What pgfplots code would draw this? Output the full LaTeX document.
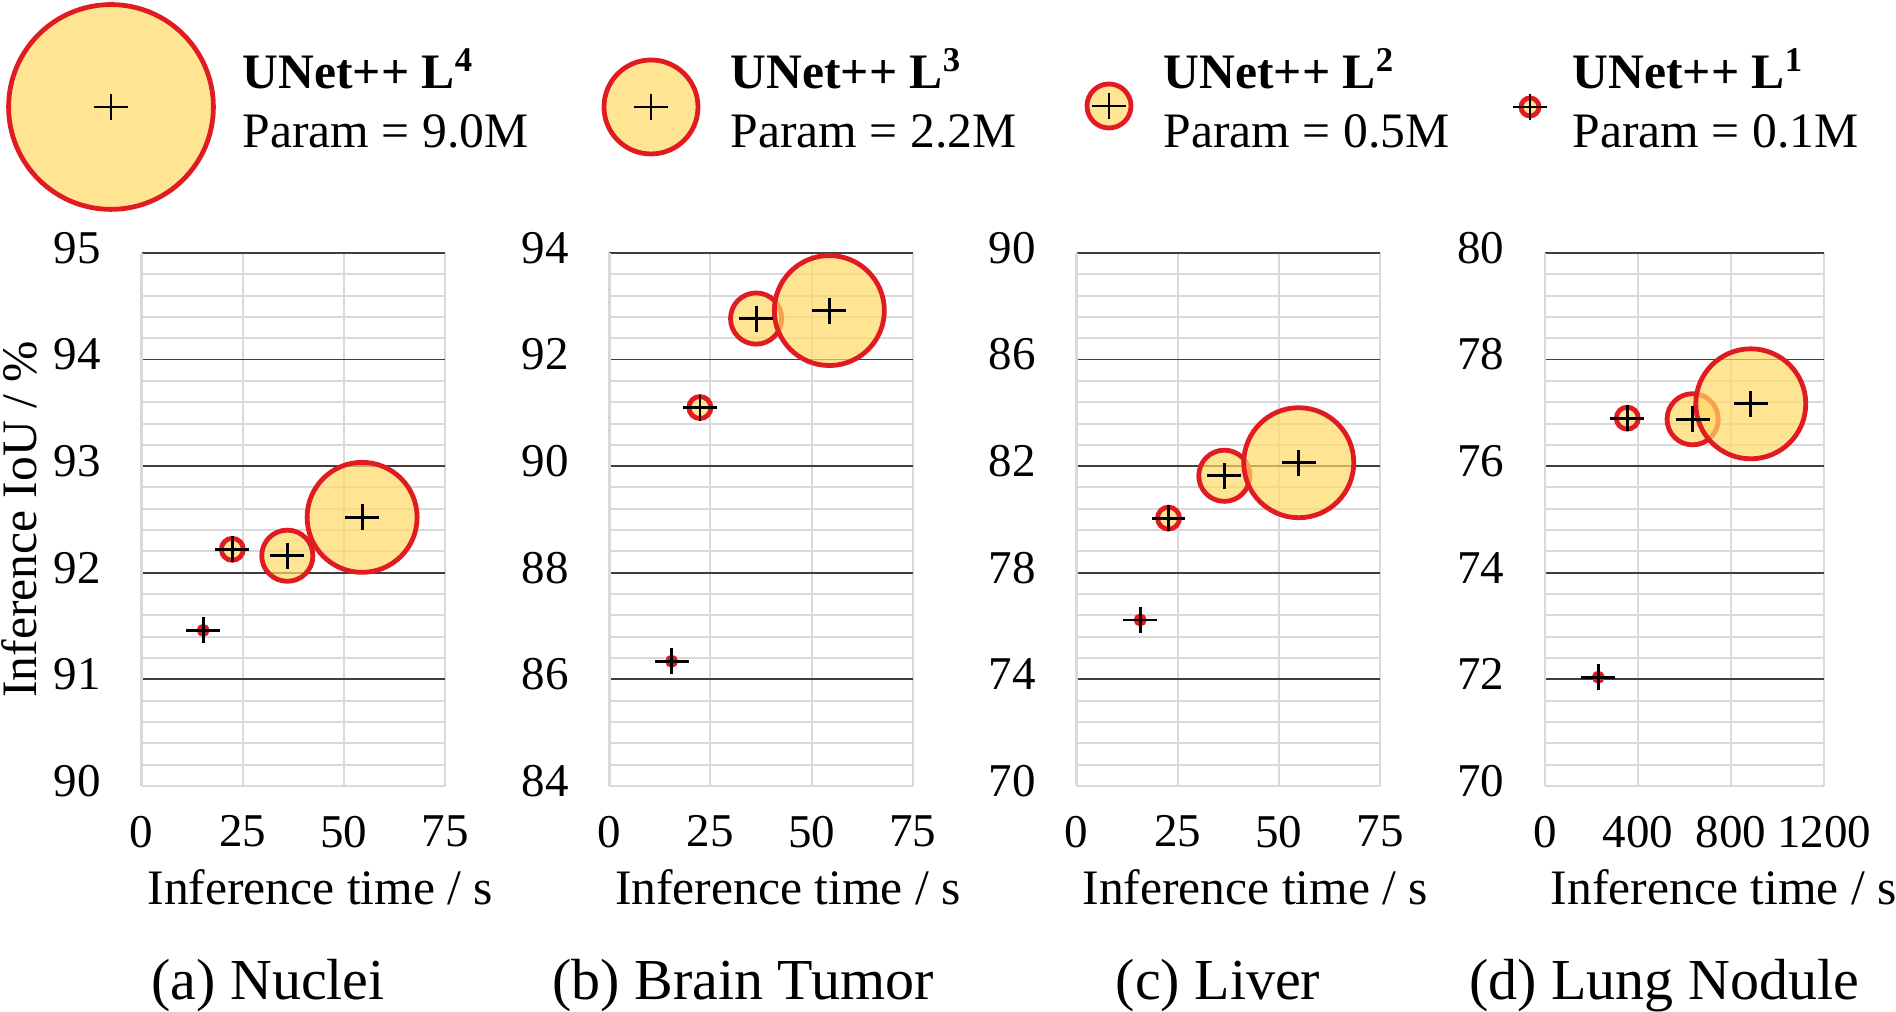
\documentclass[border=0pt]{standalone}
\usepackage{fontspec}
\setmainfont{Liberation Serif}
\usepackage{pgfplots}
\pgfplotsset{compat=1.18}
\definecolor{bubfill}{HTML}{FFD966}
\definecolor{bubred}{HTML}{E11B22}
\definecolor{gridlight}{HTML}{D9D9D9}
\definecolor{griddark}{HTML}{3F3F3F}
\pgfplotsset{
  bub/.style={only marks, mark=*, mark options={fill=bubfill, fill opacity=0.7, draw=bubred, line width=1.2pt}},
  crs/.style={only marks, mark=+, mark size=3.25pt, mark options={xscale=1.3, draw=black, line width=0.7pt}},
  panel/.style={scale only axis, width=75.83pt, height=133.25pt, anchor=south west, clip=false,
    axis x line*=bottom, axis y line*=left,
    axis line style={draw=gridlight, line width=0.65pt},
    tick style={draw=none},
    xmajorgrids, ymajorgrids, yminorgrids,
    major x grid style={draw=gridlight, line width=0.5pt},
    major y grid style={draw=griddark, line width=0.45pt},
    minor y grid style={draw=gridlight, line width=0.5pt},
    extra y tick style={grid=none},
    /pgf/number format/assume math mode=true,
    /pgf/number format/1000 sep={},
    tick label style={font=\fontsize{11.75}{14}\selectfont},
    yticklabel style={anchor=east, inner sep=0pt, xshift=-10pt, yshift=1.25pt},
    xticklabel style={anchor=north, inner sep=0pt, yshift=-7.25pt},
    xlabel={Inference time / s},
    xlabel style={at={(axis description cs:0,0)}, anchor=base west, inner sep=0pt, xshift=1.25pt, yshift=-29.75pt, font=\fontsize{12.4}{15}\selectfont},
  }
}
\begin{document}
\begin{tikzpicture}
% (a) Nuclei
\begin{axis}[panel, at={(35.43pt,56.5pt)},
  xmin=0, xmax=75, xtick={0,25,50,75},
  ymin=90, ymax=95, ytick={91,92,93,94,95}, extra y ticks={90},
  minor ytick={90.2,90.4,90.6,90.8,91.2,91.4,91.6,91.8,92.2,92.4,92.6,92.8,93.2,93.4,93.6,93.8,94.2,94.4,94.6,94.8},
  ylabel={Inference IoU / \%},
  ylabel style={at={(axis description cs:-0.3485,0.5)}, anchor=base, inner sep=0pt, font=\fontsize{12.4}{15}\selectfont}]
\addplot[bub, mark size=1pt] coordinates {(15.2,91.46)};
\addplot[bub, mark size=2.75pt] coordinates {(22.4,92.22)};
\addplot[bub, mark size=6.4pt] coordinates {(36.0,92.16)};
\addplot[bub, mark size=13.75pt] coordinates {(54.5,92.52)};
\addplot[crs] coordinates {(15.2,91.46) (22.4,92.22) (36.0,92.16) (54.5,92.52)};
\end{axis}
% (b) Brain Tumor
\begin{axis}[panel, at={(152.33pt,56.5pt)},
  xmin=0, xmax=75, xtick={0,25,50,75},
  ymin=84, ymax=94, ytick={86,88,90,92,94}, extra y ticks={84},
  minor ytick={84.4,84.8,85.2,85.6,86.4,86.8,87.2,87.6,88.4,88.8,89.2,89.6,90.4,90.8,91.2,91.6,92.4,92.8,93.2,93.6}]
\addplot[bub, mark size=1pt] coordinates {(15.4,86.34)};
\addplot[bub, mark size=2.75pt] coordinates {(22.4,91.10)};
\addplot[bub, mark size=6.4pt] coordinates {(36.3,92.77)};
\addplot[bub, mark size=13.75pt] coordinates {(54.4,92.92)};
\addplot[crs] coordinates {(15.4,86.34) (22.4,91.10) (36.3,92.77) (54.4,92.92)};
\end{axis}
% (c) Liver
\begin{axis}[panel, at={(269.18pt,56.5pt)},
  xmin=0, xmax=75, xtick={0,25,50,75},
  ymin=70, ymax=90, ytick={74,78,82,86,90}, extra y ticks={70},
  minor ytick={70.8,71.6,72.4,73.2,74.8,75.6,76.4,77.2,78.8,79.6,80.4,81.2,82.8,83.6,84.4,85.2,86.8,87.6,88.4,89.2}]
\addplot[bub, mark size=1pt] coordinates {(15.7,76.23)};
\addplot[bub, mark size=2.75pt] coordinates {(22.7,80.05)};
\addplot[bub, mark size=6.4pt] coordinates {(36.5,81.64)};
\addplot[bub, mark size=13.75pt] coordinates {(54.9,82.13)};
\addplot[crs] coordinates {(15.7,76.23) (22.7,80.05) (36.5,81.64) (54.9,82.13)};
\end{axis}
% (d) Lung Nodule
\begin{axis}[panel, at={(386.25pt,56.5pt)}, width=69.75pt,
  xmin=0, xmax=1200, xtick={0,400,800,1200},
  ymin=70, ymax=80, ytick={72,74,76,78,80}, extra y ticks={70},
  minor ytick={70.4,70.8,71.2,71.6,72.4,72.8,73.2,73.6,74.4,74.8,75.2,75.6,76.4,76.8,77.2,77.6,78.4,78.8,79.2,79.6}]
\addplot[bub, mark size=1pt] coordinates {(229,72.04)};
\addplot[bub, mark size=2.75pt] coordinates {(354,76.90)};
\addplot[bub, mark size=6.4pt] coordinates {(635,76.88)};
\addplot[bub, mark size=13.75pt] coordinates {(885,77.17)};
\addplot[crs] coordinates {(229,72.04) (354,76.90) (635,76.88) (885,77.17)};
\end{axis}
% legend and captions (pixel coordinates)
\begin{axis}[hide axis, scale only axis, width=474pt, height=253pt, at={(0pt,0pt)}, anchor=south west,
  xmin=0, xmax=1896, ymin=0, ymax=1012, clip=false]
\addplot[bub, mark size=2.25pt] coordinates {(1530,905)};
\addplot[bub, mark size=5.5pt] coordinates {(1109,906)};
\addplot[bub, mark size=11.75pt] coordinates {(651,905)};
\addplot[bub, mark size=25.6pt] coordinates {(111,905)};
\addplot[crs] coordinates {(111,905) (651,905) (1109,906) (1530,905)};
\begin{scope}[every node/.style={inner sep=0pt, font=\fontsize{12.4}{15}\selectfont}]
\node[anchor=base west] at (axis cs:242,923) {\bfseries UNet++ L\textsuperscript{4}};
\node[anchor=base west] at (axis cs:242,864) {Param = 9.0M};
\node[anchor=base west] at (axis cs:730,923) {\bfseries UNet++ L\textsuperscript{3}};
\node[anchor=base west] at (axis cs:730,864) {Param = 2.2M};
\node[anchor=base west] at (axis cs:1163,923) {\bfseries UNet++ L\textsuperscript{2}};
\node[anchor=base west] at (axis cs:1163,864) {Param = 0.5M};
\node[anchor=base west] at (axis cs:1572,923) {\bfseries UNet++ L\textsuperscript{1}};
\node[anchor=base west] at (axis cs:1572,864) {Param = 0.1M};
\end{scope}
\begin{scope}[every node/.style={inner sep=0pt, anchor=base, font=\fontsize{14.5}{17}\selectfont}]
\node at (axis cs:268,12) {(a) Nuclei};
\node at (axis cs:743,12) {(b) Brain Tumor};
\node at (axis cs:1218,12) {(c) Liver};
\node at (axis cs:1664,12) {(d) Lung Nodule};
\end{scope}
\end{axis}
\pgfresetboundingbox
\path[use as bounding box] (0pt,0pt) rectangle (474pt,253pt);
\end{tikzpicture}
\end{document}
